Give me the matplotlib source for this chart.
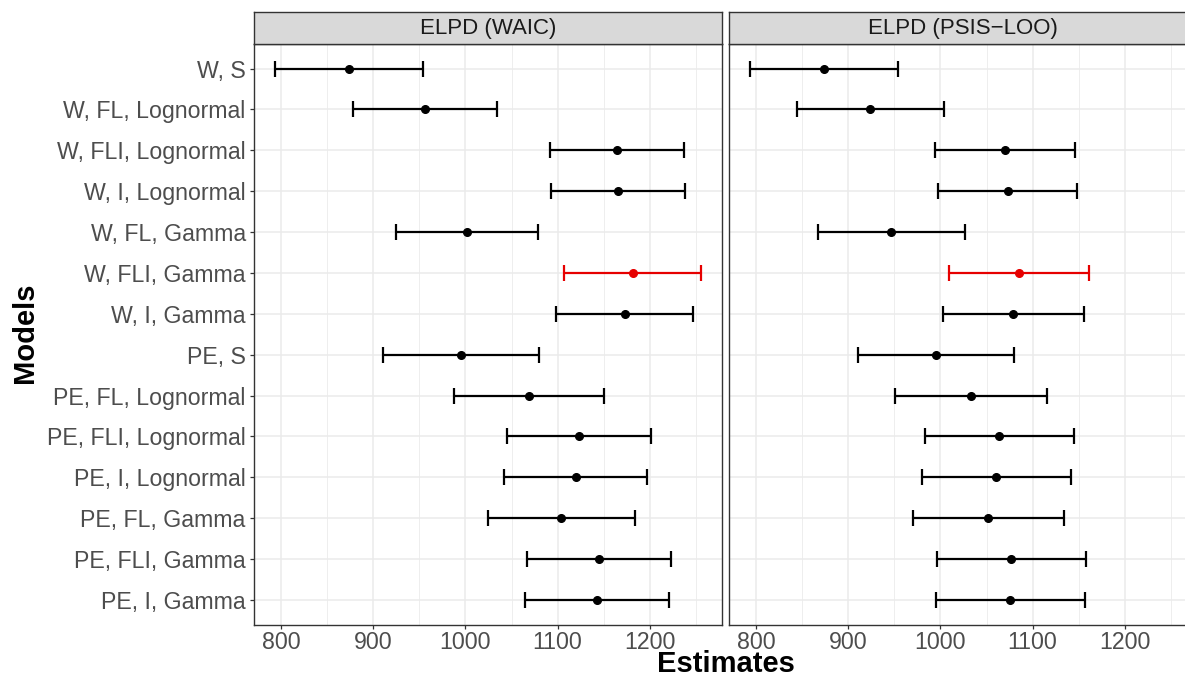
import matplotlib
matplotlib.use("Agg")
import matplotlib.pyplot as plt
import numpy as np

plt.rcParams['font.family'] = ['Liberation Sans', 'DejaVu Sans']

# model labels, top to bottom
models = ["W, S", "W, FL, Lognormal", "W, FLI, Lognormal", "W, I, Lognormal",
          "W, FL, Gamma", "W, FLI, Gamma", "W, I, Gamma", "PE, S",
          "PE, FL, Lognormal", "PE, FLI, Lognormal", "PE, I, Lognormal",
          "PE, FL, Gamma", "PE, FLI, Gamma", "PE, I, Gamma"]

# ELPD (WAIC): estimate with lower / upper interval
waic_est = [873.7, 956.0, 1164.7, 1165.8, 1001.5, 1181.4, 1173.0, 995.0,
            1069.0, 1123.2, 1119.6, 1103.7, 1144.8, 1143.0]
waic_lo = [793.5, 878.3, 1091.8, 1092.9, 924.6, 1107.0, 1098.6, 910.5,
           987.8, 1045.2, 1041.6, 1024.6, 1066.8, 1065.0]
waic_hi = [953.8, 1034.0, 1237.7, 1238.8, 1078.4, 1255.4, 1247.0, 1079.8,
           1150.3, 1201.2, 1197.6, 1183.5, 1222.9, 1220.7]

# ELPD (PSIS-LOO)
loo_est = [873.5, 923.8, 1070.4, 1072.9, 946.6, 1085.2, 1079.0, 995.1,
           1033.1, 1063.8, 1060.6, 1051.9, 1076.5, 1075.7]
loo_lo = [793.5, 844.5, 994.4, 996.9, 867.0, 1008.8, 1002.7, 910.4,
          950.2, 983.1, 979.9, 970.5, 996.2, 995.4]
loo_hi = [954.2, 1003.8, 1146.0, 1148.5, 1026.2, 1161.6, 1155.4, 1080.1,
          1116.0, 1145.0, 1141.7, 1134.1, 1157.6, 1156.5]

panels = ["ELPD (WAIC)", "ELPD (PSIS\u2212LOO)"]
best = "W, FLI, Gamma"

W, H = 1185, 679
fig = plt.figure(figsize=(W / 100, H / 100), dpi=100)


def px_axes(x0, y0, x1, y1):
    return fig.add_axes([x0 / W, 1 - y1 / H, (x1 - x0) / W, (y1 - y0) / H])


# shared x range with 5% padding
lo_all = min(min(waic_lo), min(loo_lo))
hi_all = max(max(waic_hi), max(loo_hi))
pad = 0.05 * (hi_all - lo_all)
xlim = (lo_all - pad, hi_all + pad)

data = [(waic_est, waic_lo, waic_hi), (loo_est, loo_lo, loo_hi)]
lefts = [254, 729]
width = 468

for k, (est, lo, hi) in enumerate(data):
    x0 = lefts[k]
    ax = px_axes(x0, 44, x0 + width, 624.5)
    strip = px_axes(x0, 12, x0 + width, 44)

    y = np.arange(len(models))
    for i, m in enumerate(models):
        col = "#E60000" if m == best else "black"
        ax.errorbar(est[i], y[i], xerr=[[est[i] - lo[i]], [hi[i] - est[i]]],
                    fmt="o", color=col, ms=5.5, elinewidth=1.6,
                    capsize=5.5, capthick=1.6, zorder=3)

    ax.set_xlim(xlim)
    ax.set_ylim(len(models) - 0.4, -0.6)
    ax.set_xticks([800, 900, 1000, 1100, 1200])
    ax.set_xticks([850, 950, 1050, 1150, 1250], minor=True)
    ax.set_yticks(y)
    ax.grid(True, which="major", color="#EBEBEB", lw=1.1)
    ax.grid(True, which="minor", axis="x", color="#EBEBEB", lw=0.6)
    ax.set_axisbelow(True)
    ax.tick_params(which="minor", length=0)
    ax.tick_params(which="major", length=3, width=0.9, color="#333333",
                   labelcolor="#4D4D4D", pad=3)
    ax.tick_params(axis="x", labelsize=16.7, pad=1.5)
    if k == 0:
        ax.set_yticklabels(models, fontsize=16.7)
    else:
        ax.tick_params(axis="y", length=0, labelleft=False)
    for s in ax.spines.values():
        s.set_color("#333333")
        s.set_linewidth(1.0)

    strip.set_facecolor("#D9D9D9")
    strip.set_xticks([])
    strip.set_yticks([])
    for s in strip.spines.values():
        s.set_color("#333333")
        s.set_linewidth(1.0)
    strip.text(0.5, 0.47, panels[k], ha="center", va="center",
               fontsize=16, color="#1A1A1A", transform=strip.transAxes)

fig.text(725.5 / W, 1 / H, "Estimates", ha="center", va="bottom",
         fontsize=21, fontweight="bold")
fig.text(25 / W, 1 - 333 / H, "Models", ha="center", va="center",
         rotation=90, fontsize=21, fontweight="bold")

fig.savefig("out.png", dpi=100)
